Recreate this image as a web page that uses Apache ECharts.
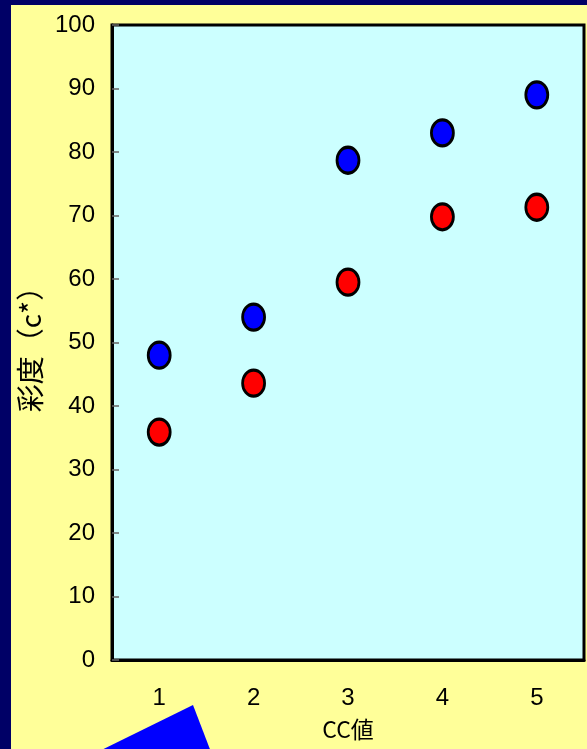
<!DOCTYPE html>
<html>
<head>
<meta charset="utf-8">
<script src="https://cdn.jsdelivr.net/npm/echarts@6/dist/echarts.min.js"></script>
<style>
  html, body { margin: 0; padding: 0; background: #000066; }
  #frame { position: absolute; left: 0; top: 0; width: 587px; height: 749px; background: #000066; }
  #chart { position: absolute; left: 11px; top: 5px; width: 576px; height: 744px; background: #ffff99; }
</style>
</head>
<body>
<div id="frame"><div id="chart"></div></div>
<script>
// CC values on the x axis
const categories = ['1', '2', '3', '4', '5'];
// chroma (c*) for the two sample groups
const blueValues = [48, 54, 78.7, 83, 89];
const redValues = [35.9, 43.6, 59.5, 69.8, 71.3];

const chart = echarts.init(document.getElementById('chart'), null, { renderer: 'canvas' });

const labelFont = { color: '#000', fontSize: 24, fontFamily: '"Liberation Sans", Arial, sans-serif' };

chart.setOption({
  animation: false,
  backgroundColor: 'transparent',
  grid: {
    left: 101, top: 20, right: 3, bottom: 89,
    outerBoundsMode: 'none',
    containLabel: false,
    show: true, backgroundColor: '#ccffff', borderColor: '#000', borderWidth: 3
  },
  xAxis: {
    type: 'category',
    data: categories,
    boundaryGap: true,
    name: 'CC値',
    nameLocation: 'middle',
    nameGap: 58,
    nameTextStyle: { color: '#000', fontSize: 23, fontFamily: '"Noto Sans CJK JP", sans-serif' },
    axisLine: { lineStyle: { color: '#000', width: 3 } },
    axisTick: { inside: true, length: 7, lineStyle: { color: '#666', width: 1.5 } },
    axisLabel: Object.assign({ margin: 26 }, labelFont),
    splitLine: { show: false }
  },
  yAxis: {
    type: 'value',
    min: 0, max: 100, interval: 10,
    name: '彩度（c*）',
    nameLocation: 'middle',
    nameGap: 68,
    nameRotate: 90,
    nameTextStyle: { color: '#000', fontSize: 28, fontFamily: '"Noto Sans CJK JP", sans-serif' },
    axisLine: { show: true, lineStyle: { color: '#000', width: 3 } },
    axisTick: { show: true, inside: true, length: 7, lineStyle: { color: '#666', width: 1.5 } },
    axisLabel: Object.assign({ margin: 17 }, labelFont),
    splitLine: { show: false }
  },
  series: [
    {
      type: 'scatter',
      data: blueValues,
      symbol: 'circle',
      symbolSize: [22, 26],
      itemStyle: { color: '#0000ff', borderColor: '#000', borderWidth: 3, opacity: 1 }
    },
    {
      type: 'scatter',
      data: redValues,
      symbol: 'circle',
      symbolSize: [22, 26],
      itemStyle: { color: '#ff0000', borderColor: '#000', borderWidth: 3, opacity: 1 }
    }
  ],
  graphic: [
    {
      type: 'polygon',
      shape: { points: [[182, 700], [60, 760], [205, 760]] },
      style: { fill: '#0000ff' },
      z: 10
    }
  ]
});
</script>
</body>
</html>
